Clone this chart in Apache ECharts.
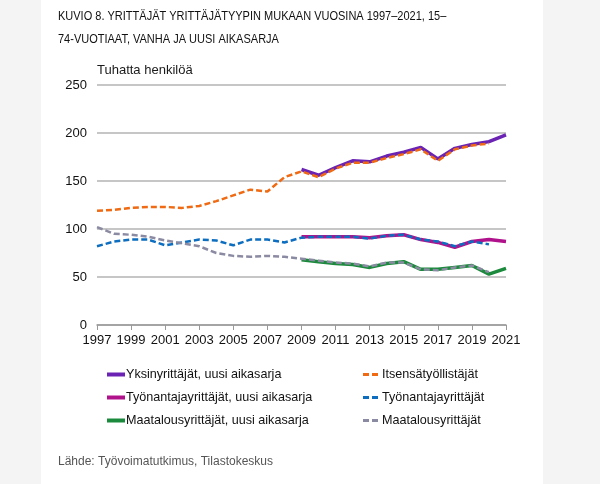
<!DOCTYPE html>
<html><head><meta charset="utf-8">
<script src="https://cdn.jsdelivr.net/npm/echarts@6/dist/echarts.min.js"></script>
<style>html,body{margin:0;padding:0;background:#f4f4f4}#c{width:600px;height:484px}</style>
</head><body><div id="c"></div>
<script>
const years = ['1997','1998','1999','2000','2001','2002','2003','2004','2005','2006','2007','2008','2009','2010','2011','2012','2013','2014','2015','2016','2017','2018','2019','2020','2021'];
const yLabels = [0,50,100,150,200,250];
const N = null;
// new series (2009-2021)
const yksinUusi   = [N,N,N,N,N,N,N,N,N,N,N,N,162,156,164,171,170,176,180,185,173,184,188,191,198];
const tyonUusi    = [N,N,N,N,N,N,N,N,N,N,N,N,92,92,92,92,91,93,94,89,86,81,87,89,87];
const maatUusi    = [N,N,N,N,N,N,N,N,N,N,N,N,68,66,64,63,60,64,66,58,58,60,62,53,59];
// old series (1997-2020)
const itsens      = [119,120,122,123,123,122,124,129,135,141,139,154,160,154,163,169,169,174,178,183,171,183,187,189,N];
const tyonVanha   = [82,87,89,89,83,86,89,88,83,89,89,86,91,92,92,92,90,93,94,89,87,82,87,84,N];
const maatVanha   = [102,95,94,92,88,85,82,75,72,71,72,71,69,67,65,64,61,65,65,58,57,60,62,55,N];

const F = 'Liberation Sans, Arial, sans-serif';
function solid(name, data, color){
  return {name, type:'line', data, symbol:'none', connectNulls:false, z:2,
    lineStyle:{color, width:3.5}, itemStyle:{color}};
}
function dashed(name, data, color){
  return {name, type:'line', data, symbol:'none', connectNulls:false, z:3,
    lineStyle:{color, width:2.5, type:[6,3]}, itemStyle:{color}};
}
const dashIcon = 'path://M0,0H6V3H0Z M9,0H15V3H9Z';
const chart = echarts.init(document.getElementById('c'), null, {renderer:'canvas'});
chart.setOption({
  backgroundColor:'#f4f4f4',
  animation:false,
  graphic:[
    {type:'rect', z:-10, shape:{x:41,y:0,width:502,height:484}, style:{fill:'#ffffff'}},
    {type:'text', x:58, y:5, scaleX:0.815, style:{text:'KUVIO 8. YRITTÄJÄT YRITTÄJÄTYYPIN MUKAAN VUOSINA 1997–2021, 15–\n74-VUOTIAAT, VANHA JA UUSI AIKASARJA', font:'13.5px '+F, fill:'#111111', lineHeight:23}},
    {type:'text', left:97, top:64, style:{text:'Tuhatta henkilöä', font:'13px '+F, fill:'#1a1a1a'}},
    {type:'text', left:58, top:456, style:{text:'Lähde: Työvoimatutkimus, Tilastokeskus', font:'12px '+F, fill:'#555555'}}
  ],
  grid:{left:97, right:94, top:85, bottom:159, containLabel:false},
  xAxis:{type:'category', data:years, boundaryGap:false,
    axisLine:{lineStyle:{color:'#999', width:1.5}},
    axisTick:{show:true, interval:1, length:5, lineStyle:{color:'#999'}},
    axisLabel:{interval:1, color:'#111', fontSize:13, fontFamily:F, margin:9}},
  yAxis:{type:'value', min:0, max:250, interval:50,
    axisLine:{show:false}, axisTick:{show:false},
    axisLabel:{color:'#111', fontSize:13, fontFamily:F, margin:10, formatter:v=>yLabels.includes(v)?String(v):''},
    splitLine:{lineStyle:{color:'#b3b3b3', width:1.5}}},
  legend:[
    {orient:'vertical', left:102, top:363, itemGap:10, itemWidth:18, itemHeight:4,
      textStyle:{fontSize:12.6, fontFamily:F, color:'#111', padding:[0,0,0,-4]},
      data:[{name:'Yksinyrittäjät, uusi aikasarja', icon:'rect'},{name:'Työnantajayrittäjät, uusi aikasarja', icon:'rect'},{name:'Maatalousyrittäjät, uusi aikasarja', icon:'rect'}]},
    {orient:'vertical', left:358, top:363, itemGap:10, itemWidth:15, itemHeight:4,
      textStyle:{fontSize:12.6, fontFamily:F, color:'#111', padding:[0,0,0,-1]},
      data:[{name:'Itsensätyöllistäjät', icon:dashIcon},{name:'Työnantajayrittäjät', icon:dashIcon},{name:'Maatalousyrittäjät', icon:dashIcon}]}
  ],
  series:[
    solid('Yksinyrittäjät, uusi aikasarja', yksinUusi, '#6a23b3'),
    solid('Työnantajayrittäjät, uusi aikasarja', tyonUusi, '#b0128c'),
    solid('Maatalousyrittäjät, uusi aikasarja', maatUusi, '#1b8a3c'),
    dashed('Itsensätyöllistäjät', itsens, '#ef6a12'),
    dashed('Työnantajayrittäjät', tyonVanha, '#0d6ec0'),
    dashed('Maatalousyrittäjät', maatVanha, '#8b8aa3')
  ]
});
</script></body></html>
